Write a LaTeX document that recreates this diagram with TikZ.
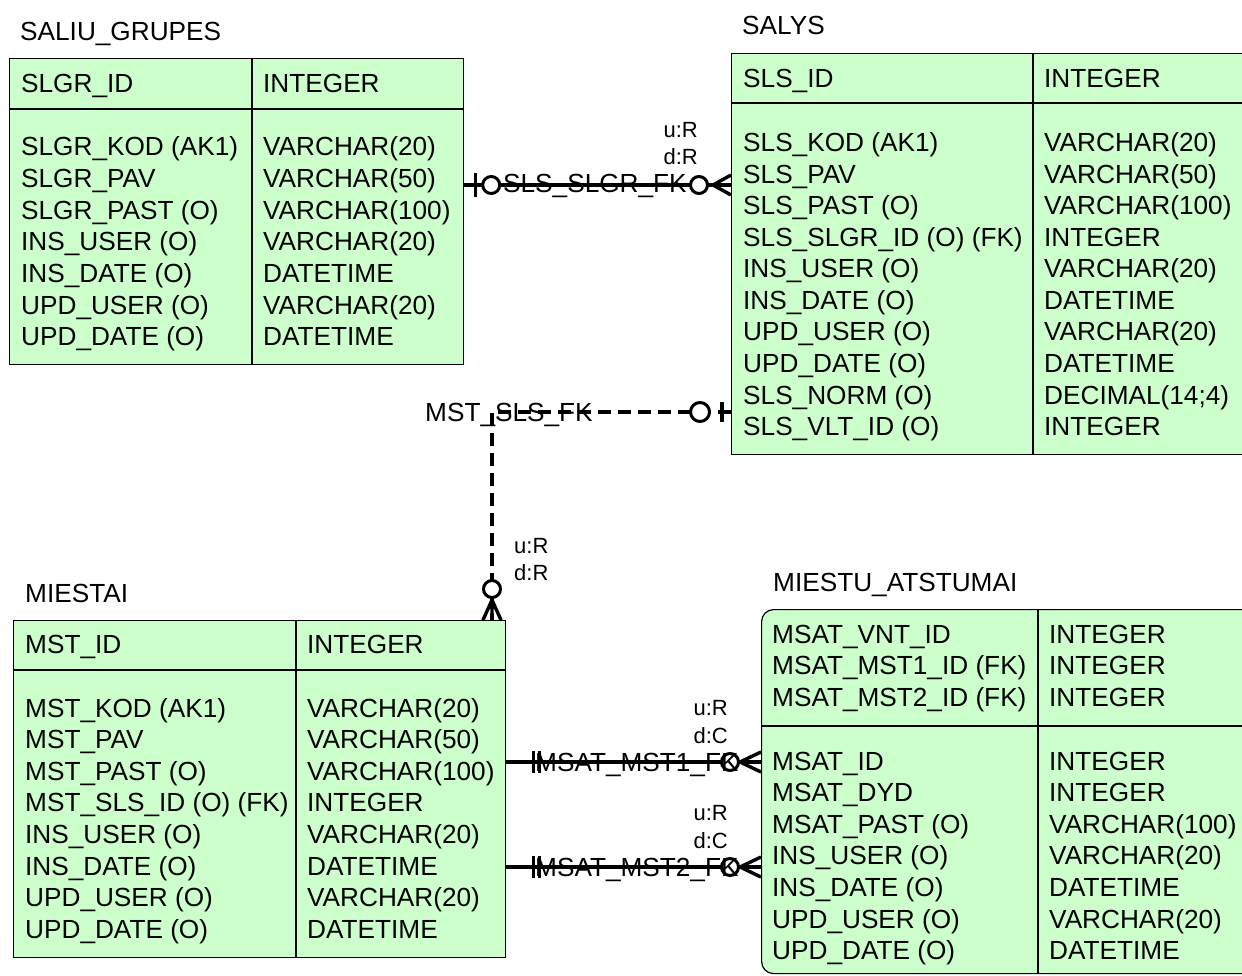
\documentclass[tikz,border=0pt]{standalone}
\usepackage{fontspec}
\setmainfont{Liberation Sans}
\definecolor{entgreen}{RGB}{204,255,204}

\begin{document}
\begin{tikzpicture}[x=1pt, y=-1pt,
  tbl/.style={draw, fill=entgreen, line width=1.2pt, inner sep=0pt, anchor=north west},
  sep/.style={line width=1.2pt},
  fld/.style={anchor=base west, inner sep=0pt, font=\fontsize{26.2}{31}\selectfont},
  card/.style={inner sep=0pt, font=\fontsize{22}{26}\selectfont},
  rel/.style={line width=3.4pt},
  reldash/.style={rel, dash pattern=on 13pt off 7pt},
  zero/.style={line width=3pt, fill=white}]
\useasboundingbox (0,0) rectangle (1242,976);
\clip (0,0) rectangle (1242,976);
% SALIU_GRUPES
\node[fld] (slgrT) at (20,41) {SALIU\_GRUPES};
\node[tbl, minimum width=454pt, minimum height=306pt] (slgr) at (9,58) {};
\draw[sep] (slgr.north west |- 0,109) -- (slgr.north east |- 0,109);
\draw[sep] (slgr.north -| 252,0) -- (slgr.south -| 252,0);
\node[fld] (slgrK) at (21,93) {SLGR\_ID};
\node[fld] (slgrKT) at (263,93) {INTEGER};
\foreach \f/\t [count=\i from 0] in {SLGR\_KOD (AK1)/VARCHAR(20), SLGR\_PAV/VARCHAR(50),
    SLGR\_PAST (O)/VARCHAR(100), INS\_USER (O)/VARCHAR(20), INS\_DATE (O)/DATETIME,
    UPD\_USER (O)/VARCHAR(20), UPD\_DATE (O)/DATETIME} {
  \node[fld] (slgrF\i) at (21,156+31.6*\i) {\f};
  \node[fld] (slgrD\i) at (263,156+31.6*\i) {\t};
}
% SALYS
\node[fld] (slsT) at (742,35) {SALYS};
\node[tbl, minimum width=540pt, minimum height=401pt] (sls) at (731,53) {};
\draw[sep] (sls.north west |- 0,103) -- (sls.north east |- 0,103);
\draw[sep] (sls.north -| 1033,0) -- (sls.south -| 1033,0);
\node[fld] (slsK) at (743,88) {SLS\_ID};
\node[fld] (slsKT) at (1044,88) {INTEGER};
\foreach \f/\t [count=\i from 0] in {SLS\_KOD (AK1)/VARCHAR(20), SLS\_PAV/VARCHAR(50),
    SLS\_PAST (O)/VARCHAR(100), SLS\_SLGR\_ID (O) (FK)/INTEGER, INS\_USER (O)/VARCHAR(20),
    INS\_DATE (O)/DATETIME, UPD\_USER (O)/VARCHAR(20), UPD\_DATE (O)/DATETIME,
    SLS\_NORM (O)/DECIMAL(14;4), SLS\_VLT\_ID (O)/INTEGER} {
  \node[fld] (slsF\i) at (743,152+31.5*\i) {\f};
  \node[fld] (slsD\i) at (1044,152+31.5*\i) {\t};
}
% MIESTAI
\node[fld] (mstT) at (25,602) {MIESTAI};
\node[tbl, minimum width=492pt, minimum height=337pt] (mst) at (13,620) {};
\draw[sep] (mst.north west |- 0,670) -- (mst.north east |- 0,670);
\draw[sep] (mst.north -| 296,0) -- (mst.south -| 296,0);
\node[fld] (mstK) at (25,653) {MST\_ID};
\node[fld] (mstKT) at (307,653) {INTEGER};
\foreach \f/\t [count=\i from 0] in {MST\_KOD (AK1)/VARCHAR(20), MST\_PAV/VARCHAR(50),
    MST\_PAST (O)/VARCHAR(100), MST\_SLS\_ID (O) (FK)/INTEGER, INS\_USER (O)/VARCHAR(20),
    INS\_DATE (O)/DATETIME, UPD\_USER (O)/VARCHAR(20), UPD\_DATE (O)/DATETIME} {
  \node[fld] (mstF\i) at (25,717+31.6*\i) {\f};
  \node[fld] (mstD\i) at (307,717+31.6*\i) {\t};
}
% MIESTU_ATSTUMAI
\node[fld] (msatT) at (773,591) {MIESTU\_ATSTUMAI};
\node[tbl, rounded corners=12pt, minimum width=500pt, minimum height=364pt] (msat) at (761,609) {};
\draw[sep] (msat.north west |- 0,726) -- (msat.north east |- 0,726);
\draw[sep] (msat.north -| 1038,0) -- (msat.south -| 1038,0);
\foreach \f/\t [count=\i from 0] in {MSAT\_VNT\_ID/INTEGER, MSAT\_MST1\_ID (FK)/INTEGER,
    MSAT\_MST2\_ID (FK)/INTEGER} {
  \node[fld] (msatK\i) at (772,643+31.6*\i) {\f};
  \node[fld] (msatKT\i) at (1049,643+31.6*\i) {\t};
}
\foreach \f/\t [count=\i from 0] in {MSAT\_ID/INTEGER, MSAT\_DYD/INTEGER,
    MSAT\_PAST (O)/VARCHAR(100), INS\_USER (O)/VARCHAR(20), INS\_DATE (O)/DATETIME,
    UPD\_USER (O)/VARCHAR(20), UPD\_DATE (O)/DATETIME} {
  \node[fld] (msatF\i) at (772,770+31.6*\i) {\f};
  \node[fld] (msatD\i) at (1049,770+31.6*\i) {\t};
}
% SLS_SLGR_FK
\coordinate (r1a) at (slgr.east |- 0,185);
\coordinate (r1b) at (sls.west |- 0,185);
\draw[rel] (r1a) -- (r1b);
\draw[rel] ([shift={(11,-12)}]r1a) -- ([shift={(11,12)}]r1a);
\draw[zero] ([xshift=27]r1a) circle (8.5);
\draw[rel] ([xshift=-18]r1b) -- ([yshift=-10]r1b) ([xshift=-18]r1b) -- ([yshift=10]r1b);
\draw[zero] ([xshift=-32]r1b) circle (8.5);
\node[fld] (r1) at (503,193) {SLS\_SLGR\_FK};
\node[card, anchor=base east] (r1u) at (698,138) {u:R};
\node[card, anchor=base east] (r1d) at (698,165) {d:R};
% MST_SLS_FK
\coordinate (r2a) at (sls.west |- 0,412);
\coordinate (r2b) at (mst.north -| 492,0);
\draw[reldash] (r2a) -| (r2b);
\draw[rel] ([shift={(-9,-10)}]r2a) -- ([shift={(-9,10)}]r2a);
\draw[zero] ([xshift=-31]r2a) circle (9.5);
\draw[rel] ([yshift=20]r2b) -- ([xshift=-9]r2b) ([yshift=20]r2b) -- ([xshift=9]r2b)
  ([yshift=20]r2b) -- (r2b);
\draw[zero] ([yshift=31]r2b) circle (8.5);
\node[fld] (r2) at (425,421) {MST\_SLS\_FK};
\node[card, anchor=base west] (r2u) at (514,553) {u:R};
\node[card, anchor=base west] (r2d) at (514,580) {d:R};
% MSAT_MST1_FK, MSAT_MST2_FK
\foreach \n/\yy in {1/762, 2/867} {
  \coordinate (r3a\n) at (mst.east |- 0,\yy);
  \coordinate (r3b\n) at (msat.west |- 0,\yy);
  \draw[rel] (r3a\n) -- (r3b\n);
  \draw[rel] ([shift={(27,-11)}]r3a\n) -- ([shift={(27,11)}]r3a\n);
  \draw[rel] ([shift={(33,-11)}]r3a\n) -- ([shift={(33,11)}]r3a\n);
  \draw[rel] ([xshift=-21]r3b\n) -- ([yshift=-10]r3b\n) ([xshift=-21]r3b\n) -- ([yshift=10]r3b\n);
  \draw[zero] ([xshift=-31]r3b\n) circle (8.5);
  \node[fld] (r3\n) at (535,\yy+9) {MSAT\_MST\n\_FK};
  \node[card, anchor=base east] (r3u\n) at (728,\yy-47) {u:R};
  \node[card, anchor=base east] (r3d\n) at (728,\yy-19) {d:C};
}
\end{tikzpicture}
\end{document}
